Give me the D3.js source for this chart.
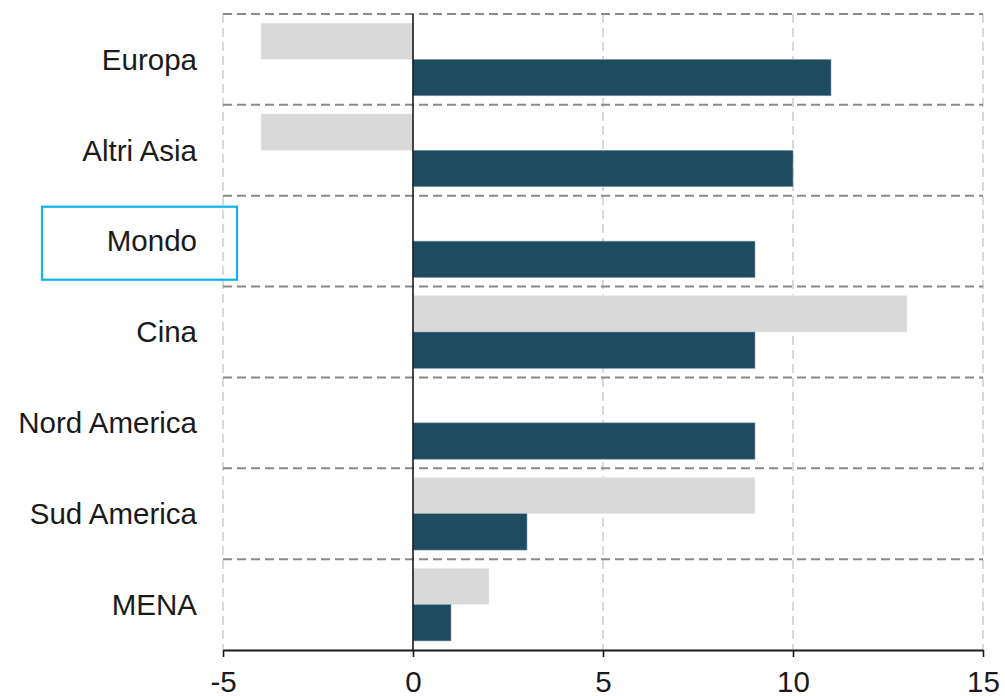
<!DOCTYPE html>
<html>
<head>
<meta charset="utf-8">
<script src="https://cdn.jsdelivr.net/npm/d3@7"></script>
<style>
  html, body { margin: 0; padding: 0; background: #fff; }
  svg { display: block; }
  text { font-family: "Liberation Sans", Arial, sans-serif; fill: #1a1a1a; }
</style>
</head>
<body>
<svg id="chart" width="1005" height="696"></svg>
<script>
const categories = ["Europa", "Altri Asia", "Mondo", "Cina", "Nord America", "Sud America", "MENA"];
const greyValues = [-4, -4, 0, 13, 0, 9, 2];
const darkValues = [11, 10, 9, 9, 9, 3, 1];
const xTicks = [-5, 0, 5, 10, 15];
const highlighted = "Mondo";

(function () {
const svg = d3.select("#chart");
const mLeft = 223, mRight = 983, mTop = 14, mBottom = 650;
const fs = 29.5;

const x = d3.scaleLinear().domain([-5, 15]).range([mLeft, mRight]);
const y = d3.scaleBand().domain(categories).range([mTop, mBottom]).padding(0);
const sub = d3.scaleBand().domain(["grey", "dark"]).range([0, y.bandwidth()]).paddingInner(0).paddingOuter(0.25);

// vertical grid (light dashed)
svg.append("g").selectAll("line").data(xTicks.filter(d => d !== 0)).join("line")
  .attr("x1", d => x(d)).attr("x2", d => x(d))
  .attr("y1", mTop).attr("y2", mBottom)
  .attr("stroke", "#d9d9d9").attr("stroke-width", 2)
  .attr("stroke-dasharray", "9,5");

// horizontal band separators (darker dashed)
const seps = categories.map(c => y(c));
svg.append("g").selectAll("line").data(seps).join("line")
  .attr("x1", mLeft).attr("x2", mRight)
  .attr("y1", d => d).attr("y2", d => d)
  .attr("stroke", "#8a8a8a").attr("stroke-width", 2)
  .attr("stroke-dasharray", "9,5");

const rows = categories.map((c, i) => ({ c, grey: greyValues[i], dark: darkValues[i] }));

// grey bars
svg.append("g").selectAll("rect").data(rows.filter(d => d.grey !== 0)).join("rect")
  .attr("x", d => x(Math.min(0, d.grey)))
  .attr("width", d => Math.abs(x(d.grey) - x(0)))
  .attr("y", d => y(d.c) + sub("grey"))
  .attr("height", sub.bandwidth())
  .attr("fill", "#d9d9d9")
  .attr("stroke", "#eeeeee").attr("stroke-width", 0.6);

// dark bars
svg.append("g").selectAll("rect").data(rows.filter(d => d.dark !== 0)).join("rect")
  .attr("x", d => x(Math.min(0, d.dark)))
  .attr("width", d => Math.abs(x(d.dark) - x(0)))
  .attr("y", d => y(d.c) + sub("dark"))
  .attr("height", sub.bandwidth())
  .attr("fill", "#1f4b60")
  .attr("stroke", "#7f9aa8").attr("stroke-width", 0.6);

// zero line
svg.append("line")
  .attr("x1", x(0)).attr("x2", x(0))
  .attr("y1", mTop).attr("y2", mBottom)
  .attr("stroke", "#1a1a1a").attr("stroke-width", 1.6);

// x axis
const xAxis = d3.axisBottom(x).tickValues(xTicks).tickSize(7).tickSizeOuter(0).tickFormat(d => String(d));
const gx = svg.append("g").attr("transform", `translate(0,${mBottom})`).call(xAxis);
gx.select(".domain").attr("stroke", "#1a1a1a").attr("stroke-width", 2.2);
gx.selectAll(".tick line").attr("stroke", "#1a1a1a").attr("stroke-width", 1.6);
gx.selectAll(".tick text")
  .attr("font-family", "Liberation Sans, Arial, sans-serif")
  .attr("font-size", fs)
  .attr("fill", "#1a1a1a")
  .attr("y", 21).attr("dy", "0.71em");

// category labels
svg.append("g").selectAll("text").data(categories).join("text")
  .attr("x", 197)
  .attr("y", d => y(d) + y.bandwidth() / 2)
  .attr("dy", "0.35em")
  .attr("text-anchor", "end")
  .attr("font-size", fs)
  .text(d => d);

// highlight box
svg.append("rect")
  .attr("x", 42).attr("y", y(highlighted) + 11)
  .attr("width", 195).attr("height", 73)
  .attr("fill", "none")
  .attr("stroke", "#0db2ef").attr("stroke-width", 2.2);
})();
</script>
</body>
</html>
